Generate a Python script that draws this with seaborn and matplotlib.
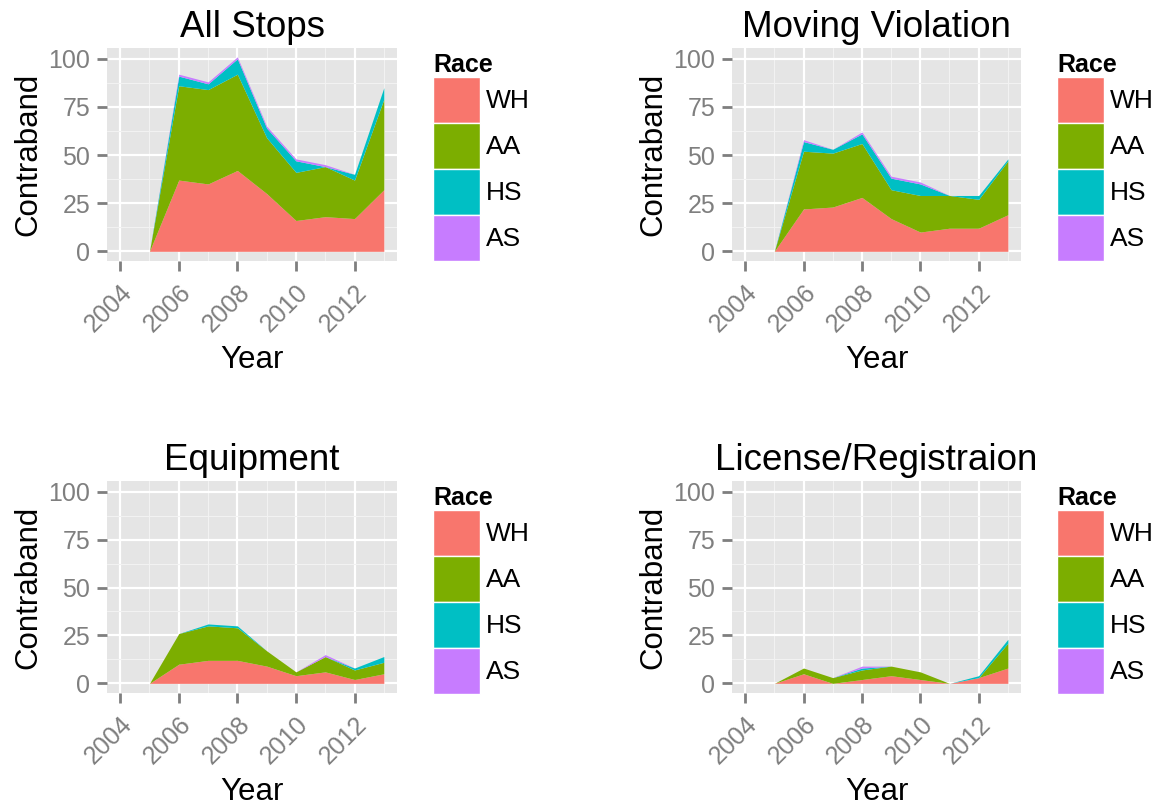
import numpy as np
import pandas as pd
import matplotlib.pyplot as plt
import seaborn as sns
from matplotlib.patches import Patch

years = [2005, 2006, 2007, 2008, 2009, 2010, 2011, 2012, 2013]
races = ["WH", "AA", "HS", "AS"]
panel_titles = ["All Stops", "Moving Violation", "Equipment", "License/Registraion"]

# All Stops
all_wh = [0, 37, 35, 42, 30, 16, 18, 17, 32]
all_aa = [0, 49, 49, 50, 29, 25, 26, 20, 47]
all_hs = [0, 5, 3, 8, 5, 6, 0, 3, 6]
all_as = [0, 1, 1, 1, 1, 1, 1, 0, 0]

# Moving Violation
mv_wh = [0, 22, 23, 28, 17, 10, 12, 12, 19]
mv_aa = [0, 30, 28, 28, 15, 19, 17, 15, 28]
mv_hs = [0, 5, 2, 5, 6, 6, 0, 2, 1]
mv_as = [0, 1, 0, 1, 1, 1, 0, 0, 0]

# Equipment
eq_wh = [0, 10, 12, 12, 9, 4, 6, 2, 5]
eq_aa = [0, 16, 18, 17, 8, 2, 8, 5, 6]
eq_hs = [0, 0, 1, 1, 0, 0, 0, 1, 3]
eq_as = [0, 0, 0, 0, 0, 0, 1, 0, 0]

# License/Registration
lr_wh = [0, 5, 0, 2, 4, 2, 0, 3, 8]
lr_aa = [0, 3, 3, 5, 5, 4, 0, 0, 13]
lr_hs = [0, 0, 0, 1, 0, 0, 0, 1, 2]
lr_as = [0, 0, 0, 1, 0, 0, 0, 0, 0]

panels = [
    (all_wh, all_aa, all_hs, all_as),
    (mv_wh, mv_aa, mv_hs, mv_as),
    (eq_wh, eq_aa, eq_hs, eq_as),
    (lr_wh, lr_aa, lr_hs, lr_as),
]

sns.set_theme(style="darkgrid", rc={
    "axes.facecolor": "#E5E5E5",
    "grid.color": "white",
    "text.color": "black",
    "axes.labelcolor": "black",
})
plt.rcParams["font.family"] = ["Liberation Sans", "DejaVu Sans"]

colors = ["#F8766D", "#7CAE00", "#00BFC4", "#C77CFF"]

W, H = 1159, 806
fig = plt.figure(figsize=(W / 100, H / 100), dpi=100)

# panel boxes in pixels: left, top, right, bottom
boxes = [(107, 48, 397, 261), (732, 48, 1021, 261),
         (107, 481, 397, 693), (732, 481, 1021, 693)]
legend_pos = [(433, 53), (1057, 53), (433, 486), (1057, 486)]

for i, (vals, box) in enumerate(zip(panels, boxes)):
    l, t, r, b = box
    ax = fig.add_axes([l / W, 1 - b / H, (r - l) / W, (b - t) / H])
    ax.stackplot(years, *vals, colors=colors, linewidth=0)

    ax.set_xlim(2003.55, 2013.45)
    ax.set_ylim(-5.03, 105.6)
    ax.set_xticks([2004, 2006, 2008, 2010, 2012])
    ax.set_xticks([2005, 2007, 2009, 2011, 2013], minor=True)
    ax.set_yticks([0, 25, 50, 75, 100])
    ax.set_yticks([12.5, 37.5, 62.5, 87.5], minor=True)
    ax.grid(which="major", color="white", linewidth=1.6)
    ax.grid(which="minor", color="#F2F2F2", linewidth=0.8)
    ax.set_axisbelow(True)
    for s in ax.spines.values():
        s.set_visible(False)

    ax.tick_params(axis="both", which="major", length=7, width=2,
                   color="#7F7F7F", labelcolor="#7F7F7F", labelsize=18,
                   bottom=True, left=True)
    ax.tick_params(axis="y", pad=5)
    ax.tick_params(axis="x", pad=7)
    ax.tick_params(which="minor", length=0)
    for lab in ax.get_xticklabels():
        lab.set_rotation(45)
        lab.set_ha("right")
        lab.set_va("top")
        lab.set_rotation_mode("anchor")

    ax.set_title(panel_titles[i], fontsize=26.5, pad=8)
    ax.set_xlabel("Year", fontsize=22.5, labelpad=6)
    ax.set_ylabel("Contraband", fontsize=22.5, labelpad=4)

    handles = [Patch(facecolor=c, edgecolor="white", linewidth=1) for c in colors]
    lx, ly = legend_pos[i]
    leg = fig.legend(handles, races, loc="upper left",
                     bbox_to_anchor=(lx / W, 1 - ly / H),
                     bbox_transform=fig.transFigure, frameon=False,
                     fontsize=19, title="Race",
                     title_fontproperties={"weight": "bold", "size": 18},
                     handlelength=1.78, handleheight=2.3, labelspacing=0,
                     handletextpad=0.22, borderpad=0, borderaxespad=0)
    leg._legend_box.align = "left"

fig.savefig("out.png", dpi=100)
